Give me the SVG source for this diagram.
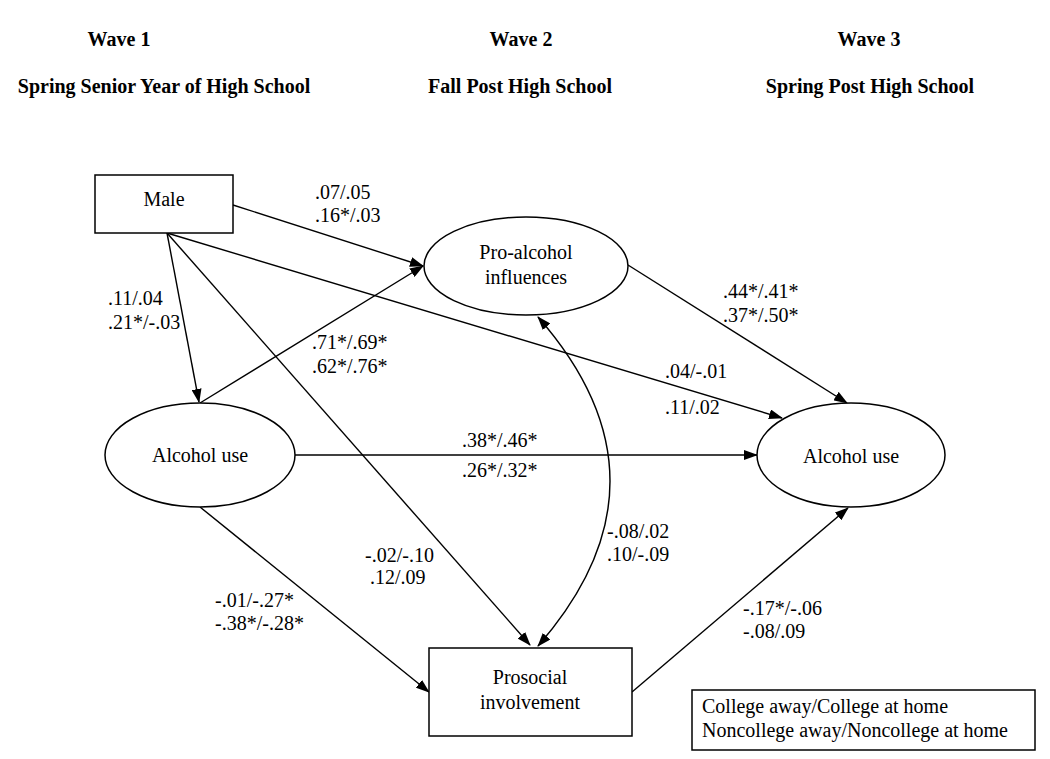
<svg xmlns="http://www.w3.org/2000/svg" width="1050" height="759" viewBox="0 0 1050 759">
<style>
text{font-family:"Liberation Serif","Times New Roman",serif;font-size:20px;fill:#000}
.h{font-weight:bold}
.c{text-anchor:middle}
.n{fill:#fff;stroke:#000;stroke-width:1.5}
.e{fill:none;stroke:#000;stroke-width:1.4}
</style>
<defs>
<marker id="ah" markerUnits="userSpaceOnUse" markerWidth="14" markerHeight="10" viewBox="0 0 14 10" refX="13" refY="5" orient="auto-start-reverse">
<path d="M0,0 L14,5 L0,10 Z" fill="#000"/>
</marker>
</defs>
<rect width="1050" height="759" fill="#fff"/>
<g id="headings">
<text class="h c" x="119" y="46">Wave 1</text>
<text class="h c" x="164" y="93">Spring Senior Year of High School</text>
<text class="h c" x="521" y="46">Wave 2</text>
<text class="h c" x="520" y="93">Fall Post High School</text>
<text class="h c" x="869" y="46">Wave 3</text>
<text class="h c" x="870" y="93">Spring Post High School</text>
</g>
<g id="connectors">
<line class="e" x1="233" y1="205" x2="423" y2="266" marker-end="url(#ah)"/>
<line class="e" x1="167" y1="233" x2="199" y2="402" marker-end="url(#ah)"/>
<line class="e" x1="167" y1="233" x2="530" y2="645" marker-end="url(#ah)"/>
<line class="e" x1="167" y1="233" x2="782" y2="418" marker-end="url(#ah)"/>
<line class="e" x1="200" y1="403" x2="423" y2="266" marker-end="url(#ah)"/>
<line class="e" x1="628" y1="265" x2="847" y2="403" marker-end="url(#ah)"/>
<line class="e" x1="295" y1="455" x2="757" y2="455" marker-end="url(#ah)"/>
<line class="e" x1="200" y1="507" x2="429" y2="692" marker-end="url(#ah)"/>
<line class="e" x1="632" y1="692" x2="848" y2="508" marker-end="url(#ah)"/>
<path class="e" d="M538,317 Q682,481 538,646" stroke-width="1.8" marker-start="url(#ah)" marker-end="url(#ah)"/>
</g>
<g id="labels">
<text x="315" y="199">.07/.05</text>
<text x="315" y="222">.16*/.03</text>
<text x="108" y="305">.11/.04</text>
<text x="108" y="329">.21*/-.03</text>
<text x="312" y="349">.71*/.69*</text>
<text x="312" y="373">.62*/.76*</text>
<text x="723" y="298">.44*/.41*</text>
<text x="723" y="322">.37*/.50*</text>
<text x="665" y="378">.04/-.01</text>
<text x="665" y="414">.11/.02</text>
<text x="462" y="447">.38*/.46*</text>
<text x="462" y="477">.26*/.32*</text>
<text x="607" y="538">-.08/.02</text>
<text x="607" y="561">.10/-.09</text>
<text x="365" y="562">-.02/-.10</text>
<text x="370" y="584">.12/.09</text>
<text x="215" y="607">-.01/-.27*</text>
<text x="215" y="630">-.38*/-.28*</text>
<text x="743" y="615">-.17*/-.06</text>
<text x="743" y="638">-.08/.09</text>
</g>
<g id="male">
<rect class="n" x="95" y="175" width="138" height="58"/>
<text class="c" x="164" y="206">Male</text>
</g>
<g id="pro-alcohol">
<ellipse class="n" cx="526" cy="266" rx="102" ry="49"/>
<text class="c" x="526" y="259">Pro-alcohol</text>
<text class="c" x="526" y="284">influences</text>
</g>
<g id="alcohol-use-1">
<ellipse class="n" cx="200" cy="455" rx="95" ry="52"/>
<text class="c" x="200" y="462">Alcohol use</text>
</g>
<g id="alcohol-use-3">
<ellipse class="n" cx="851" cy="455" rx="94" ry="52"/>
<text class="c" x="851" y="463">Alcohol use</text>
</g>
<g id="prosocial">
<rect class="n" x="429" y="648" width="203" height="88"/>
<text class="c" x="530" y="684">Prosocial</text>
<text class="c" x="530" y="709">involvement</text>
</g>
<g id="legend">
<rect class="n" x="692" y="690" width="343" height="60"/>
<text x="702" y="713">College away/College at home</text>
<text x="702" y="737">Noncollege away/Noncollege at home</text>
</g>
</svg>
